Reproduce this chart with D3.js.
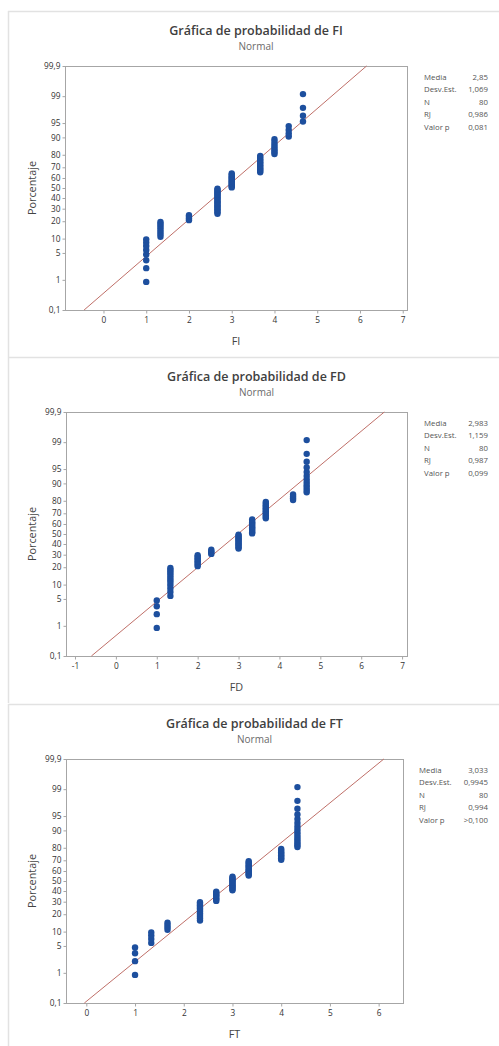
<!DOCTYPE html>
<html>
<head>
<meta charset="utf-8">
<script src="https://cdn.jsdelivr.net/npm/d3@7"></script>
<style>
  body { margin: 0; background: #fff; }
  svg { display: block; font-family: "Open Sans", sans-serif; }
</style>
</head>
<body>
<div id="chart"></div>
<script>
// DATA: distinct observed values and how many times each one appears (N = 80)
const fiValues = [1, 4/3, 2, 8/3, 3, 11/3, 4, 13/3, 14/3];
const fiCounts = [8, 8, 4, 20, 12, 12, 8, 4, 4];
const fdValues = [1, 4/3, 2, 7/3, 3, 10/3, 11/3, 13/3, 14/3];
const fdCounts = [4, 12, 8, 4, 12, 12, 12, 4, 12];
const ftValues = [1, 4/3, 5/3, 7/3, 8/3, 3, 10/3, 4, 13/3];
const ftCounts = [4, 4, 4, 12, 8, 12, 12, 8, 16];

// fitted normal parameters shown in the legend
const fiFit = { mean: 2.85, sd: 1.069 };
const fdFit = { mean: 2.983, sd: 1.159 };
const ftFit = { mean: 3.033, sd: 0.9945 };

const statLabels = ["Media", "Desv.Est.", "N", "RJ", "Valor p"];
const fiStats = ["2,85", "1,069", "80", "0,986", "0,081"];
const fdStats = ["2,983", "1,159", "80", "0,987", "0,099"];
const ftStats = ["3,033", "0,9945", "80", "0,994", ">0,100"];

const yTicks = [0.1, 1, 5, 10, 20, 30, 40, 50, 60, 70, 80, 90, 95, 99, 99.9];
const fiTicks = [0, 1, 2, 3, 4, 5, 6, 7];
const fdTicks = [-1, 0, 1, 2, 3, 4, 5, 6, 7];
const ftTicks = [0, 1, 2, 3, 4, 5, 6];

const panels = [
  { name: "FI", values: fiValues, counts: fiCounts, fit: fiFit, stats: fiStats, ticks: fiTicks,
    top: 11, x0: 65, x1: 407, domain: [-0.9, 7.1], statX: 424 },
  { name: "FD", values: fdValues, counts: fdCounts, fit: fdFit, stats: fdStats, ticks: fdTicks,
    top: 357, x0: 66, x1: 407, domain: [-1.22, 7.12], statX: 424 },
  { name: "FT", values: ftValues, counts: ftCounts, fit: ftFit, stats: ftStats, ticks: ftTicks,
    top: 704, x0: 66, x1: 403, domain: [-0.417, 6.5], statX: 419 }
];

const W = 499, H = 1046;
const blue = "#1d4f9e", lineRed = "#bf6f68", frame = "#a6a6a6", txt = "#333";

// inverse standard normal cdf (Acklam)
function qnorm(p) {
  const a = [-39.69683028665376, 220.9460984245205, -275.9285104469687, 138.357751867269, -30.66479806614716, 2.506628277459239];
  const b = [-54.47609879822406, 161.5858368580409, -155.6989798598866, 66.80131188771972, -13.28068155288572];
  const c = [-0.007784894002430293, -0.3223964580411365, -2.400758277161838, -2.549732539343734, 4.374664141464968, 2.938163982698783];
  const d = [0.007784695709041462, 0.3224671290700398, 2.445134137142996, 3.754408661907416];
  const pl = 0.02425;
  let q, r;
  if (p < pl) {
    q = Math.sqrt(-2 * Math.log(p));
    return (((((c[0]*q+c[1])*q+c[2])*q+c[3])*q+c[4])*q+c[5]) / ((((d[0]*q+d[1])*q+d[2])*q+d[3])*q+1);
  }
  if (p > 1 - pl) {
    q = Math.sqrt(-2 * Math.log(1 - p));
    return -(((((c[0]*q+c[1])*q+c[2])*q+c[3])*q+c[4])*q+c[5]) / ((((d[0]*q+d[1])*q+d[2])*q+d[3])*q+1);
  }
  q = p - 0.5; r = q * q;
  return (((((a[0]*r+a[1])*r+a[2])*r+a[3])*r+a[4])*r+a[5])*q / (((((b[0]*r+b[1])*r+b[2])*r+b[3])*r+b[4])*r+1);
}

const fmt = v => String(v).replace(".", ",");

const svg = d3.select("#chart").append("svg")
  .attr("width", W).attr("height", H);

panels.forEach(p => {
  const g = svg.append("g");
  const top = p.top;
  const plotTop = top + 55, plotBot = top + 299;

  // panel border (top + left)
  g.append("line").attr("x1", 8).attr("x2", W).attr("y1", top + 0.5).attr("y2", top + 0.5)
    .attr("stroke", "#e2e2e2").attr("stroke-width", 1.5);
  g.append("line").attr("x1", 8.5).attr("x2", 8.5).attr("y1", top).attr("y2", Math.min(top + 346, H))
    .attr("stroke", "#e2e2e2").attr("stroke-width", 1.5);

  // scales
  const x = d3.scaleLinear().domain(p.domain).range([p.x0, p.x1]);
  const zMin = qnorm(0.001), zMax = qnorm(0.999);
  const y = d3.scaleLinear().domain([zMin, zMax]).range([plotBot, plotTop]);

  // title
  const cx = (p.x0 + p.x1) / 2 + 20;
  g.append("text").attr("x", cx).attr("y", top + 23.5).attr("text-anchor", "middle")
    .attr("font-size", 12.5).attr("font-weight", 600).attr("fill", "#404040")
    .text("Gráfica de probabilidad de " + p.name);
  g.append("text").attr("x", cx).attr("y", top + 38.5).attr("text-anchor", "middle")
    .attr("font-size", 10).attr("fill", "#6a6a6a").text("Normal");

  // frame
  g.append("rect").attr("x", p.x0 + 0.5).attr("y", plotTop + 0.5)
    .attr("width", p.x1 - p.x0).attr("height", plotBot - plotTop)
    .attr("fill", "none").attr("stroke", frame).attr("stroke-width", 1);

  // axes
  const yAxis = d3.axisLeft(y).tickValues(yTicks.map(t => qnorm(t / 100)))
    .tickFormat((d, i) => fmt(yTicks[i])).tickSize(3).tickPadding(2);
  const ya = g.append("g").attr("transform", `translate(${p.x0 + 0.5},0)`).call(yAxis);
  const xAxis = d3.axisBottom(x).tickValues(p.ticks).tickFormat(d => d < 0 ? "-" + Math.abs(d) : d)
    .tickSize(3).tickPadding(4);
  const xa = g.append("g").attr("transform", `translate(0,${plotBot + 0.5})`).call(xAxis);
  [ya, xa].forEach(a => {
    a.select(".domain").remove();
    a.selectAll(".tick line").attr("stroke", frame);
    a.selectAll(".tick text").attr("fill", txt).attr("font-size", 8.3)
      .attr("font-family", "'Open Sans', sans-serif");
  });

  // axis titles
  g.append("text").attr("transform", `translate(36,${(plotTop + plotBot) / 2}) rotate(-90)`)
    .attr("text-anchor", "middle").attr("font-size", 10.8).attr("fill", "#444").text("Porcentaje");
  g.append("text").attr("x", (p.x0 + p.x1) / 2).attr("y", plotBot + 35).attr("text-anchor", "middle")
    .attr("font-size", 10.8).attr("fill", "#444").text(p.name);

  // fitted line
  g.append("line")
    .attr("x1", x(p.fit.mean + p.fit.sd * zMin)).attr("y1", y(zMin))
    .attr("x2", x(p.fit.mean + p.fit.sd * zMax)).attr("y2", y(zMax))
    .attr("stroke", lineRed).attr("stroke-width", 1);

  // points: Benard median ranks
  const n = d3.sum(p.counts);
  const pts = [];
  let rank = 0;
  p.values.forEach((v, k) => {
    for (let j = 0; j < p.counts[k]; j++) {
      rank++;
      pts.push({ v, z: qnorm((rank - 0.3) / (n + 0.4)) });
    }
  });
  g.append("g").selectAll("circle").data(pts).join("circle")
    .attr("cx", d => x(d.v)).attr("cy", d => y(d.z)).attr("r", 3.2)
    .attr("fill", blue);

  // legend table
  const st = g.append("g").attr("font-size", 7.8).attr("fill", "#555");
  statLabels.forEach((lab, i) => {
    const yy = top + 69 + i * 12.4;
    st.append("text").attr("x", p.statX).attr("y", yy).text(lab);
    st.append("text").attr("x", 488).attr("y", yy).attr("text-anchor", "end").text(p.stats[i]);
  });
});
</script>
</body>
</html>
